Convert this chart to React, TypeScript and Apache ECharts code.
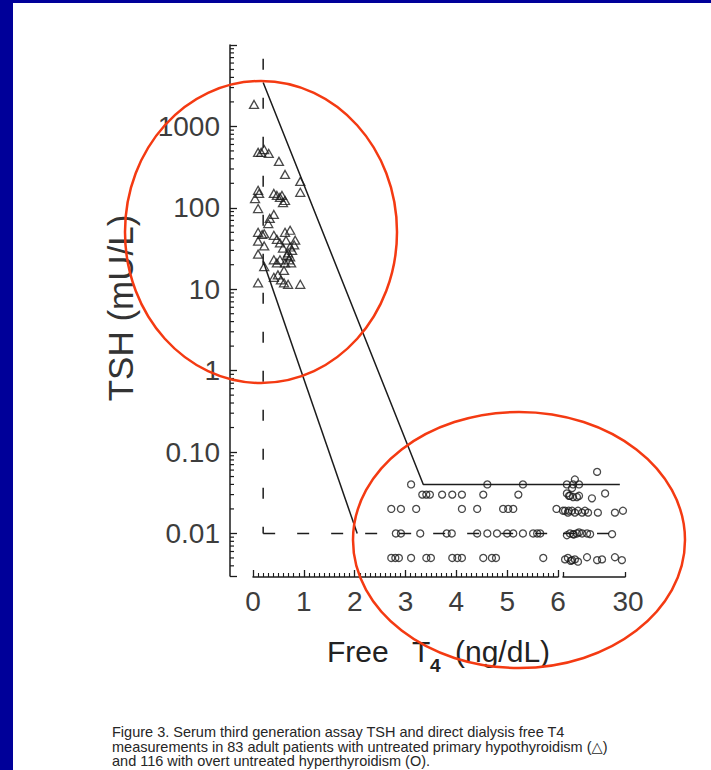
import React, { useEffect, useRef } from "react";
import * as echarts from "echarts";

// Untreated primary hypothyroidism: [free T4 (ng/dL), TSH (mU/L)]
const hypothyroid: [number, number][] = [
  [0.02, 1860], [0.1, 480], [0.22, 520], [0.31, 466], [0.16, 480], [0.51, 372],
  [0.63, 257], [0.93, 211], [0.93, 155], [0.1, 164], [0.12, 150], [0.04, 130],
  [0.41, 150], [0.47, 142], [0.53, 134], [0.57, 142], [0.63, 123], [0.59, 116],
  [0.1, 98], [0.41, 83], [0.33, 74], [0.3, 64], [0.1, 50], [0.22, 48],
  [0.18, 47], [0.41, 46], [0.63, 50], [0.73, 53], [0.1, 39], [0.22, 34],
  [0.47, 41], [0.53, 37], [0.83, 40], [0.81, 35], [0.59, 32], [0.69, 28],
  [0.77, 30], [0.67, 26], [0.73, 25], [0.71, 23], [0.63, 21], [0.75, 21],
  [0.1, 27], [0.41, 23], [0.47, 21], [0.53, 23], [0.22, 19], [0.61, 17],
  [0.49, 15], [0.41, 14], [0.1, 12], [0.61, 12], [0.69, 11.5], [0.93, 11.5],
  [0.55, 13], [0.73, 33], [0.65, 40],
];

// Overt hyperthyroidism, free T4 up to 6 ng/dL
const hyperthyroidLow: [number, number][] = [
  [3.11, 0.04], [4.61, 0.04], [5.31, 0.04],
  [3.33, 0.03], [3.41, 0.03], [3.48, 0.03], [3.72, 0.03], [3.92, 0.03], [4.11, 0.03], [4.53, 0.03], [5.22, 0.03],
  [2.72, 0.02], [2.91, 0.02], [3.21, 0.02], [4.11, 0.02], [4.41, 0.02], [4.92, 0.02], [5.02, 0.02], [5.12, 0.02], [5.97, 0.02],
  [2.81, 0.01], [2.91, 0.01], [3.29, 0.01], [3.81, 0.01], [3.91, 0.01], [4.41, 0.01], [4.61, 0.01], [4.8, 0.01],
  [5.0, 0.01], [5.12, 0.01], [5.31, 0.01], [5.51, 0.01], [5.59, 0.01], [5.65, 0.01],
  [2.72, 0.005], [2.8, 0.005], [2.87, 0.005], [3.11, 0.005], [3.41, 0.005], [3.5, 0.005], [3.92, 0.005],
  [4.02, 0.005], [4.11, 0.005], [4.53, 0.005], [4.7, 0.005], [4.78, 0.005], [5.71, 0.005],
];

// Overt hyperthyroidism, free T4 between 6 and 30 ng/dL
const hyperthyroidHigh: [number, number][] = [
  [19.2, 0.057], [10.6, 0.046], [7.5, 0.04], [9.9, 0.04], [12.2, 0.04], [9.5, 0.036],
  [7.5, 0.031], [8.7, 0.029], [9.9, 0.028], [11.4, 0.028], [12.2, 0.029], [17.2, 0.027], [22.3, 0.031], [8.3, 0.029],
  [6.0, 0.019], [6.8, 0.019], [7.9, 0.018], [8.2, 0.019], [9.5, 0.019], [10.6, 0.018], [11.8, 0.019], [13.4, 0.018],
  [14.5, 0.019], [15.7, 0.018], [19.5, 0.018], [26.1, 0.018], [29.2, 0.019],
  [7.5, 0.0095], [8.7, 0.01], [9.9, 0.0098], [10.2, 0.0097], [11.4, 0.01], [12.2, 0.0103], [13.4, 0.01],
  [15.3, 0.01], [16.5, 0.0098], [25.0, 0.0098],
  [6.8, 0.0048], [7.9, 0.005], [9.0, 0.0046], [9.5, 0.0047], [10.6, 0.0048], [11.8, 0.0045], [15.3, 0.0051],
  [19.2, 0.0047], [21.1, 0.0048], [26.1, 0.0051], [28.8, 0.0047],
];

// Diagnostic boundary lines
const upperBoundLow: [number, number][] = [[0.2, 3470], [3.35, 0.04], [6.1, 0.04]];
const upperBoundHigh: [number, number][] = [[6, 0.04], [28, 0.04]];
const lowerBound: [number, number][] = [[0.2, 22], [2.05, 0.01]];
const refVertical: [number, number][] = [[0.2, 6800], [0.2, 0.01]];
const refHorizontalLow: [number, number][] = [[0.2, 0.01], [6.1, 0.01]];
const refHorizontalHigh: [number, number][] = [[6, 0.01], [27.5, 0.01]];

// Tick labels
const yDecadeLabels: Record<number, string> = {
  3: "1000", 2: "100", 1: "10", 0: "1", [-1]: "0.10", [-2]: "0.01",
};
const xHighLabels: Record<number, string> = { 30: "30" };

// Log minor-tick multipliers and the decades they are placed in
const minorMultipliers = [2, 3, 4, 5, 6, 7, 8, 9];
const minorDecades = [-3, -2, -1, 0, 1, 2, 3];

const captionLines = [
  "Figure 3. Serum third generation assay TSH and direct dialysis free T4",
  "measurements in 83 adult patients with untreated primary hypothyroidism (\u25B3)",
  "and 116 with overt untreated hyperthyroidism (O).",
];

const FONT = "'Liberation Sans', Arial, Helvetica, sans-serif";
const INK = "#1c1c1c";
const LABEL = "#3d3d3d";
const MARK = "#f43a12";

export default function App() {
  const ref = useRef<HTMLDivElement>(null);

  useEffect(() => {
    const chart = echarts.init(ref.current!, null, { renderer: "svg" });

    const TOP = 45;
    const H = 531;
    const Y_MIN = 0.003;
    const Y_MAX = 10000;
    // free T4 0..6 spans 305 px; the data grid starts 23 px left of zero, at the TSH axis
    const pxPerUnit = 305 / 6;
    const dataMin = -23 / pxPerUnit;
    const dataMax = 6 + 5 / pxPerUnit;

    const yMinorTicks: [number, number][] = [];
    minorDecades.forEach((d) =>
      minorMultipliers.forEach((m) => {
        const v = Number((m * Math.pow(10, d)).toPrecision(6));
        if (v > Y_MIN && v < Y_MAX) yMinorTicks.push([dataMin, v]);
      })
    );

    const logAxis = (gridIndex: number, visible: boolean) => ({
      type: "log",
      gridIndex,
      min: Y_MIN,
      max: Y_MAX,
      splitNumber: 7,
      show: visible,
      axisLine: { show: visible, onZero: false, lineStyle: { color: INK, width: 1.5 } },
      axisTick: { show: visible, inside: true, length: 7, lineStyle: { color: INK, width: 1.3 } },
      minorTick: { show: false },
      splitLine: { show: false },
      axisLabel: {
        show: visible,
        margin: 10,
        fontFamily: FONT,
        fontSize: 28,
        color: LABEL,
        formatter: (v: number) => {
          const e = Math.log10(v);
          if (Math.abs(e - Math.round(e)) > 1e-6) return "";
          return yDecadeLabels[Math.round(e)] ?? "";
        },
      },
    });

    const scatterStyle = {
      color: "rgba(255,255,255,0)",
      borderColor: INK,
      borderWidth: 1.3,
    };

    const line = (data: [number, number][], axis: number, dash: any, width = 1.5) => ({
      type: "line",
      xAxisIndex: axis,
      yAxisIndex: axis,
      data,
      symbol: "none",
      silent: true,
      z: 1,
      lineStyle: { color: INK, width, type: dash },
    });

    chart.setOption({
      animation: false,
      backgroundColor: "#ffffff",
      grid: [
        { left: 230, top: TOP, width: 333, height: H },
        { left: 563, top: TOP, width: 62, height: H },
        { left: 253, top: TOP, width: 305, height: H },
      ],
      xAxis: [
        { type: "value", gridIndex: 0, min: dataMin, max: dataMax, show: false },
        {
          type: "value",
          gridIndex: 1,
          min: 6,
          max: 30,
          interval: 24,
          offset: 1,
          axisLine: { show: true, onZero: false, lineStyle: { color: INK, width: 1.5 } },
          axisTick: { show: true, inside: true, length: 5, lineStyle: { color: INK, width: 1.3 } },
          splitLine: { show: false },
          axisLabel: {
            margin: 10,
            fontFamily: FONT,
            fontSize: 28,
            color: LABEL,
            padding: [0, 0, 0, 6],
            showMinLabel: true,
            showMaxLabel: true,
            formatter: (v: number) => xHighLabels[v] ?? "",
          },
        },
        {
          type: "value",
          gridIndex: 2,
          min: 0,
          max: 6,
          interval: 1,
          offset: 1,
          axisLine: { show: true, onZero: false, lineStyle: { color: INK, width: 1.5 } },
          axisTick: { show: true, inside: true, length: 7, lineStyle: { color: INK, width: 1.3 } },
          minorTick: { show: true, splitNumber: 10, length: 4, lineStyle: { color: INK, width: 1.1 } },
          splitLine: { show: false },
          axisLabel: {
            margin: 10,
            fontFamily: FONT,
            fontSize: 28,
            color: LABEL,
            showMinLabel: true,
            showMaxLabel: true,
          },
        },
      ],
      yAxis: [logAxis(0, true), logAxis(1, false), logAxis(2, false)],
      series: [
        {
          // minor ticks of the logarithmic TSH axis
          type: "custom",
          xAxisIndex: 0,
          yAxisIndex: 0,
          data: yMinorTicks,
          clip: false,
          silent: true,
          z: 2,
          renderItem: (_params: any, api: any) => {
            const p = api.coord([api.value(0), api.value(1)]);
            return {
              type: "line",
              shape: { x1: p[0], y1: p[1], x2: p[0] + 4, y2: p[1] },
              style: { stroke: INK, lineWidth: 1.2 },
            };
          },
        },
        line(refVertical, 0, [11, 28]),
        line(refHorizontalLow, 0, [12, 22]),
        line(refHorizontalHigh, 1, [12, 22]),
        line(upperBoundLow, 0, "solid"),
        line(upperBoundHigh, 1, "solid"),
        line(lowerBound, 0, "solid"),
        {
          type: "scatter",
          xAxisIndex: 0,
          yAxisIndex: 0,
          data: hypothyroid,
          symbol: "triangle",
          symbolSize: [9, 8],
          itemStyle: scatterStyle,
          clip: false,
          silent: true,
          z: 3,
        },
        {
          type: "scatter",
          xAxisIndex: 0,
          yAxisIndex: 0,
          data: hyperthyroidLow,
          symbol: "circle",
          symbolSize: 7,
          itemStyle: scatterStyle,
          clip: false,
          silent: true,
          z: 3,
        },
        {
          type: "scatter",
          xAxisIndex: 1,
          yAxisIndex: 1,
          data: hyperthyroidHigh,
          symbol: "circle",
          symbolSize: 7,
          itemStyle: scatterStyle,
          clip: false,
          silent: true,
          z: 3,
        },
      ],
      graphic: [
        // slide frame
        { type: "rect", shape: { x: 0, y: 0, width: 711, height: 3 }, style: { fill: "#000099" }, silent: true },
        { type: "rect", shape: { x: 0, y: 0, width: 13, height: 770 }, style: { fill: "#000099" }, silent: true },
        // axis titles
        {
          type: "text",
          x: 120,
          y: 308,
          rotation: Math.PI / 2,
          style: { text: "TSH (mU/L)", font: `35px ${FONT}`, fill: "#333", align: "center", verticalAlign: "middle" },
          silent: true,
        },
        {
          type: "text",
          x: 327,
          y: 651,
          style: { text: "Free", font: `30px ${FONT}`, fill: "#222", align: "left", verticalAlign: "middle" },
          silent: true,
        },
        {
          type: "text",
          x: 412,
          y: 651,
          style: { text: "T", font: `30px ${FONT}`, fill: "#222", align: "left", verticalAlign: "middle" },
          silent: true,
        },
        {
          type: "text",
          x: 430,
          y: 665,
          style: { text: "4", font: `bold 19px ${FONT}`, fill: "#222", align: "left", verticalAlign: "middle" },
          silent: true,
        },
        {
          type: "text",
          x: 455,
          y: 651,
          style: { text: "(ng/dL)", font: `30px ${FONT}`, fill: "#222", align: "left", verticalAlign: "middle" },
          silent: true,
        },
        // caption
        ...captionLines.map((t, i) => ({
          type: "text",
          x: 112,
          y: 732 + i * 14.5,
          style: {
            text: t,
            font: `14.5px ${FONT}, 'DejaVu Sans'`,
            fill: "#262626",
            align: "left",
            verticalAlign: "middle",
          },
          silent: true,
        })),
        // highlighted groups
        {
          type: "ellipse",
          shape: { cx: 261, cy: 232, rx: 136, ry: 151 },
          style: { fill: "none", stroke: MARK, lineWidth: 2.5 },
          z: 100,
          silent: true,
        },
        {
          type: "ellipse",
          shape: { cx: 519, cy: 540, rx: 166, ry: 128 },
          style: { fill: "none", stroke: MARK, lineWidth: 2.5 },
          z: 100,
          silent: true,
        },
      ],
    });

    return () => chart.dispose();
  }, []);

  return (
    <div style={{ position: "fixed", left: 0, top: 0, width: 711, height: 770, background: "#fff" }}>
      <div ref={ref} style={{ width: 711, height: 770 }} />
    </div>
  );
}
